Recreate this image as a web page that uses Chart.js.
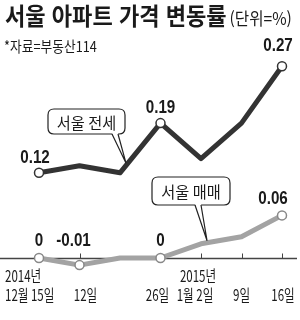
<!DOCTYPE html>
<html lang="ko">
<head>
<meta charset="UTF-8">
<script src="https://cdn.jsdelivr.net/npm/chart.js@4.4.1/dist/chart.umd.min.js"></script>
<style>
  html, body { margin: 0; padding: 0; background: #fff; }
  #wrap { position: relative; width: 300px; height: 320px; overflow: hidden;
          font-family: "Noto Sans CJK KR", "Liberation Sans", sans-serif; color: #1a1a1a; }
  #chart { position: absolute; left: 0; top: 0; }
  .head { position: absolute; white-space: nowrap; transform-origin: left top; }
  #title { left: 5px; top: -3px; font-size: 24px; font-weight: 700; transform: scaleX(0.92); }
  #title small { font-size: 17px; font-weight: 400; margin-left: 3px; }
  #source { left: 4px; top: 35px; font-size: 15px; transform: scaleX(0.85); }
</style>
</head>
<body>
<div id="wrap">
  <canvas id="chart" width="300" height="320"></canvas>
  <div class="head" id="title">서울 아파트 가격 변동률<small>(단위=%)</small></div>
  <div class="head" id="source">*자료=부동산114</div>
</div>
<script>
// ---- data ----
const yearLabels = ['2014년', '', '', '', '2015년', '', ''];
const dayLabels = ['12월 15일', '12일', '', '26일', '1월 2일', '9일', '16일'];
const jeonse = [0.12, 0.13, 0.12, 0.19, 0.14, 0.19, 0.27];   // 서울 전세
const maemae = [0, -0.01, 0, 0, 0.02, 0.03, 0.06];           // 서울 매매
const jeonseMarked = [0, 3, 6];
const maemaeMarked = [0, 1, 3, 6];

const DARK = '#333333';
const GREY = '#a3a3a3';

function fmt(v) {
    return v === 0 ? '0' : v.toFixed(2);
}

function drawText(ctx, str, x, y, font, sx, align) {
    ctx.save();
    ctx.translate(x, y);
    ctx.scale(sx, 1);
    ctx.font = font;
    ctx.fillStyle = '#1a1a1a';
    ctx.textAlign = align || 'center';
    ctx.textBaseline = 'middle';
    ctx.fillText(str, 0, 0);
    ctx.restore();
}

function roundRect(ctx, x, y, w, h, r) {
    ctx.beginPath();
    ctx.moveTo(x + r, y);
    ctx.lineTo(x + w - r, y);
    ctx.quadraticCurveTo(x + w, y, x + w, y + r);
    ctx.lineTo(x + w, y + h - r);
    ctx.quadraticCurveTo(x + w, y + h, x + w - r, y + h);
    ctx.lineTo(x + r, y + h);
    ctx.quadraticCurveTo(x, y + h, x, y + h - r);
    ctx.lineTo(x, y + r);
    ctx.quadraticCurveTo(x, y, x + r, y);
    ctx.closePath();
}

// callout: box + tail that points at a spot on the line between two points
function callout(ctx, chart, text, dsIndex, i, t, box) {
    const xs = chart.scales.x, ys = chart.scales.y;
    const data = chart.data.datasets[dsIndex].data;
    const x0 = xs.getPixelForValue(i), x1 = xs.getPixelForValue(i + 1);
    const y0 = ys.getPixelForValue(data[i]), y1 = ys.getPixelForValue(data[i + 1]);
    const tx = x0 + (x1 - x0) * t, ty = y0 + (y1 - y0) * t - 2;
    ctx.save();
    ctx.lineWidth = 1.2;
    ctx.strokeStyle = '#222';
    ctx.fillStyle = '#fff';
    roundRect(ctx, box.x, box.y, box.w, box.h, 6);
    ctx.fill();
    ctx.stroke();
    // tail
    const by = box.y + box.h;
    ctx.beginPath();
    ctx.moveTo(box.tail, by - 1);
    ctx.lineTo(tx, ty);
    ctx.lineTo(box.tail + 6, by - 1);
    ctx.fill();
    ctx.beginPath();
    ctx.moveTo(box.tail, by);
    ctx.lineTo(tx, ty);
    ctx.lineTo(box.tail + 6, by);
    ctx.stroke();
    ctx.restore();
    drawText(ctx, text, box.x + box.w / 2, box.y + box.h / 2 + 1, '400 16px "Noto Sans CJK KR"', 0.95);
}

const decorPlugin = {
    id: 'decor',
    beforeDatasetsDraw(chart) {
        const ctx = chart.ctx, xs = chart.scales.x, ys = chart.scales.y;
        const y0 = Math.round(ys.getPixelForValue(0)) + 0.5;
        ctx.save();
        ctx.strokeStyle = '#444';
        ctx.lineWidth = 1.3;
        ctx.beginPath();
        ctx.moveTo(0, y0);
        ctx.lineTo(297, y0);
        ctx.stroke();
        // small upward ticks
        ctx.lineWidth = 1;
        dayLabels.forEach((d, i) => {
            if (i === 2) return;
            const x = Math.round(xs.getPixelForValue(i)) + 0.5;
            ctx.beginPath();
            ctx.moveTo(x, y0);
            ctx.lineTo(x, y0 - 5);
            ctx.stroke();
        });
        ctx.restore();
    },
    afterDatasetsDraw(chart) {
        const ctx = chart.ctx, xs = chart.scales.x, ys = chart.scales.y;
        const f = '400 16px "Noto Sans CJK KR", "Liberation Sans", sans-serif';
        // x axis labels
        const dayShift = [-34, 6, 0, -3, -6, 0, 1];
        const yearShift = [-34, 0, 0, 0, -3, 0, 0];
        dayLabels.forEach((d, i) => {
            const x = xs.getPixelForValue(i);
            const align = i === 0 ? 'left' : 'center';
            if (yearLabels[i]) drawText(ctx, yearLabels[i], x + yearShift[i], 276, f, 0.72, align);
            if (d) drawText(ctx, d, x + dayShift[i], 295, f, 0.72, align);
        });
        // value labels
        const vf = '700 19px "Liberation Sans", "Noto Sans CJK KR", sans-serif';
        const zeroY = ys.getPixelForValue(0);
        jeonseMarked.forEach(i => {
            const x = xs.getPixelForValue(i), y = ys.getPixelForValue(jeonse[i]);
            const up = i === 6 ? 21 : 15;
            drawText(ctx, fmt(jeonse[i]), x - (i === 3 ? 0 : 4), y - up, vf, 0.8);
        });
        maemaeMarked.forEach(i => {
            const x = xs.getPixelForValue(i);
            const y = Math.min(ys.getPixelForValue(maemae[i]), zeroY);
            const dx = i === 6 ? -9 : (i === 1 ? -6 : 0);
            drawText(ctx, fmt(maemae[i]), x + dx, y - 17, vf, 0.8);
        });
        // callouts
        callout(ctx, chart, '서울 전세', 0, 2, 0.15, { x: 48, y: 109, w: 77, h: 25, tail: 112 });
        callout(ctx, chart, '서울 매매', 1, 4, 0.15, { x: 152, y: 177, w: 78, h: 28, tail: 195 });
    }
};

const markerRadius = (marked) => dayLabels.map((d, i) => marked.includes(i) ? 4.5 : 0);

new Chart(document.getElementById('chart'), {
    type: 'line',
    data: {
        labels: dayLabels,
        datasets: [
            {
                label: '서울 전세',
                data: jeonse,
                borderColor: DARK,
                borderWidth: 5,
                pointRadius: markerRadius(jeonseMarked),
                pointBackgroundColor: '#fff',
                pointBorderColor: DARK,
                pointBorderWidth: 1.5,
                borderJoinStyle: 'round',
                tension: 0,
                clip: false
            },
            {
                label: '서울 매매',
                data: maemae,
                borderColor: GREY,
                borderWidth: 5,
                pointRadius: markerRadius(maemaeMarked),
                pointBackgroundColor: '#fff',
                pointBorderColor: '#888',
                pointBorderWidth: 1.5,
                borderJoinStyle: 'round',
                tension: 0,
                clip: false
            }
        ]
    },
    options: {
        responsive: false,
        animation: false,
        events: [],
        layout: { padding: { left: 39, right: 18, top: 45, bottom: 26.5 } },
        scales: {
            x: { display: false },
            y: { display: false, min: -0.05, max: 0.3 }
        },
        plugins: {
            legend: { display: false },
            tooltip: { enabled: false }
        }
    },
    plugins: [decorPlugin]
});
</script>
</body>
</html>
